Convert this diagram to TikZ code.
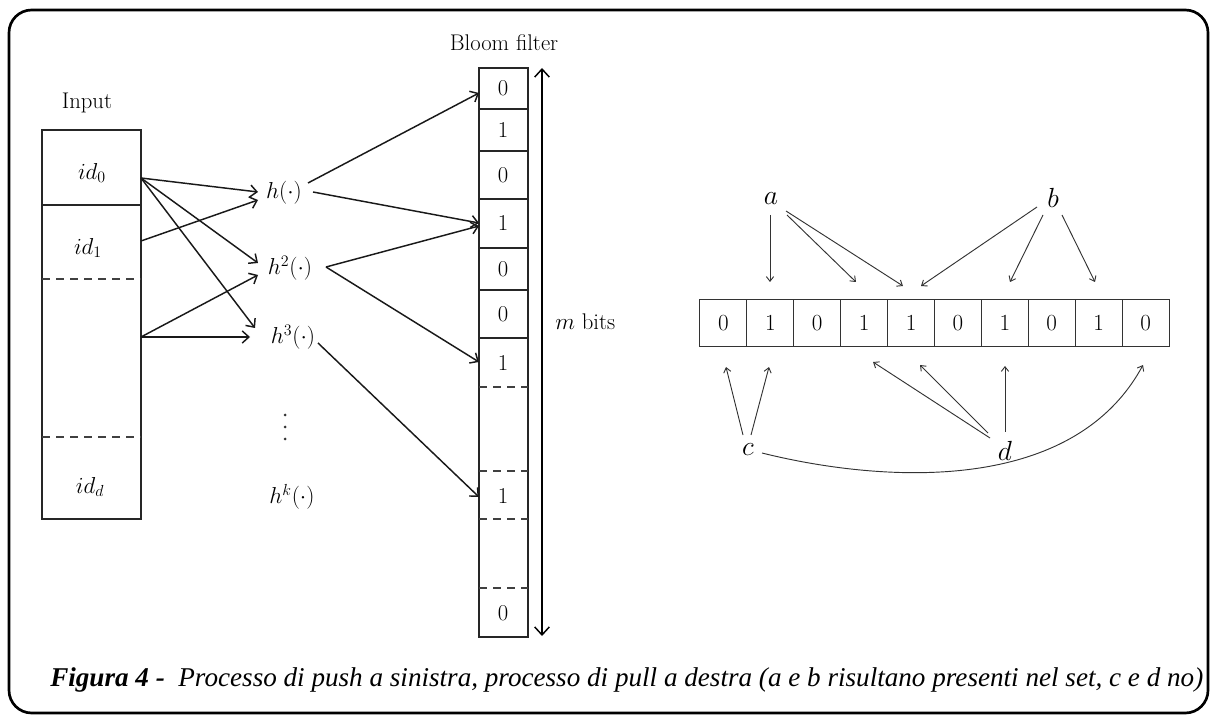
\documentclass[tikz,border=0pt]{standalone}
\usepackage{fontspec}
\usepackage{graphicx}
\usetikzlibrary{arrows.meta}
\newfontfamily\capfont{Liberation Serif}
\begin{document}
\begin{tikzpicture}[x=0.75pt,y=-0.75pt,
  lbl/.style={font=\fontsize{17}{20}\selectfont, inner sep=0pt},
  mlbl/.style={font=\fontsize{17.5}{20}\selectfont, inner sep=0pt},
  rlbl/.style={font=\fontsize{19.5}{22}\selectfont, inner sep=0pt},
  cellline/.style={draw=black!85, line width=1.1pt},
  dashline/.style={draw=black!75, line width=1.1pt, dash pattern=on 6pt off 4.5pt},
  push/.style={draw=black!90, line width=1.1pt, -{Straight Barb[length=5pt,width=9pt]}},
  pull/.style={draw=black!80, line width=0.7pt, -{Straight Barb[length=3.5pt,width=5.5pt]}},
  bit/.style={draw=black!80, line width=0.75pt, minimum width=35.2pt, minimum height=35.25pt,
    inner sep=0pt, font=\fontsize{19}{22}\selectfont},
]
\useasboundingbox (0,0) rectangle (1214,716);
% outer frame
\draw[line width=2pt, rounded corners=17pt] (9,10) rectangle (1208,713);

% ---------- push: input items ----------
\node[lbl] (inlabel) at (87,103) {Input};
\draw[cellline] (42,130) rectangle (141,519);
\draw[cellline] (42,205) -- (141,205);
\draw[dashline] (42,279) -- (141,279);
\draw[dashline] (42,437) -- (141,437);
\node[mlbl] (id0) at (92,173) {$id_0$};
\node[mlbl] (id1) at (88,248) {$id_1$};
\node[mlbl] (idd) at (90,487) {$id_d$};

% ---------- hash functions ----------
\node[mlbl] (h1) at (284,193) {$h(\cdot)$};
\node[mlbl] (h2) at (290,268) {$h^2(\cdot)$};
\node[mlbl] (h3) at (293,337) {$h^3(\cdot)$};
\node[mlbl] (hk) at (292,497) {$h^k(\cdot)$};
% vertical ellipsis between h^3 and h^k
\foreach \yy in {415,427,439} \fill[black!80] (285,\yy) circle (1.5);

% connector end points
\coordinate (s0) at (141,178);
\coordinate (s1) at (141,241);
\coordinate (s2) at (141,337);
\coordinate (h1a) at (258,192);
\coordinate (h1b) at (258,200);
\coordinate (h2a) at (258,263);
\coordinate (h2b) at (258,275);
\coordinate (h3a) at (255,328);
\coordinate (h3b) at (250,337);

\draw[push] (s0) -- (h1a);
\draw[push] (s0) -- (h2a);
\draw[push] (s0) -- (h3a);
\draw[push] (s1) -- (h1b);
\draw[push] (s2) -- (h2b);
\draw[push] (s2) -- (h3b);

% ---------- Bloom filter column ----------
\node[lbl] (bflabel) at (504,43) {Bloom filter};
\draw[cellline] (479,68) rectangle (528,637);
\foreach \yy in {109,151,199,248,290,338} \draw[cellline] (479,\yy) -- (528,\yy);
\foreach \yy in {387,471,519,588} \draw[dashline] (479,\yy) -- (528,\yy);
\node[lbl] (bf0) at (503,88) {0};
\node[lbl] (bf1) at (503,130) {1};
\node[lbl] (bf2) at (503,175) {0};
\node[lbl] (bf3) at (503,223) {1};
\node[lbl] (bf4) at (503,269) {0};
\node[lbl] (bf5) at (503,314) {0};
\node[lbl] (bf6) at (503,363) {1};
\node[lbl] (bf7) at (503,496) {1};
\node[lbl] (bf8) at (503,613) {0};

\coordinate (o1a) at (308,183);
\coordinate (o1b) at (313,192);
\coordinate (o2) at (326,267);
\coordinate (o3) at (318,343);
\coordinate (t0) at (479,93);
\coordinate (t3a) at (479,223);
\coordinate (t3b) at (479,226);
\coordinate (t6) at (479,362);
\coordinate (t7) at (479,497);

\draw[push] (o1a) -- (t0);
\draw[push] (o1b) -- (t3a);
\draw[push] (o2) -- (t3b);
\draw[push] (o2) -- (t6);
\draw[push] (o3) -- (t7);

% size of the filter
\coordinate (mtop) at (542,68);
\coordinate (mbot) at (542,636);
\draw[line width=1.1pt, {Straight Barb[length=6pt,width=11pt]}-{Straight Barb[length=6pt,width=11pt]}] (mtop) -- (mbot);
\node[lbl, anchor=west] (mbits) at (555,322) {$m$ bits};

% ---------- pull: query on the bit array ----------
\foreach \i/\v in {0/0,1/1,2/0,3/1,4/1,5/0,6/1,7/0,8/1,9/0}
  \node[bit] (r\i) at ({700+46.9*(\i+0.5)},323.5) {$\v$};

\node[rlbl] (qa) at (771,199) {$a$};
\node[rlbl] (qb) at (1053,198) {$b$};
\node[rlbl] (qc) at (748,450) {$c$};
\node[rlbl] (qd) at (1005,451) {$d$};

\coordinate (a0) at (770,215);
\coordinate (a1) at (787,215);
\coordinate (a2) at (786,211);
\coordinate (ta1) at (770,282);
\coordinate (ta3) at (856,282);
\coordinate (ta4) at (903,286);
\draw[pull] (a0) -- (ta1);
\draw[pull] (a1) -- (ta3);
\draw[pull] (a2) -- (ta4);

\coordinate (b0) at (1037,207);
\coordinate (b1) at (1043,215);
\coordinate (b2) at (1062,215);
\coordinate (tb4) at (921,286);
\coordinate (tb6) at (1010,282);
\coordinate (tb8) at (1095,282);
\draw[pull] (b0) -- (tb4);
\draw[pull] (b1) -- (tb6);
\draw[pull] (b2) -- (tb8);

\coordinate (c0) at (743,435);
\coordinate (c1) at (751,435);
\coordinate (c2) at (762,453);
\coordinate (tc0) at (726,367);
\coordinate (tc1) at (769,367);
\coordinate (tc9) at (1143,365);
\draw[pull] (c0) -- (tc0);
\draw[pull] (c1) -- (tc1);
\draw[pull] (c2) .. controls (870,480) and (1070,500) .. (tc9);

\coordinate (d0) at (990,438);
\coordinate (d1) at (988,433);
\coordinate (d2) at (1005,432);
\coordinate (td3) at (873,362);
\coordinate (td4) at (920,365);
\coordinate (td6) at (1005,366);
\draw[pull] (d0) -- (td3);
\draw[pull] (d1) -- (td4);
\draw[pull] (d2) -- (td6);

% ---------- caption ----------
\node[anchor=west, inner sep=0pt] (caption) at (50,680)
  {\resizebox{864.75pt}{!}{\capfont\fontsize{18}{21}\selectfont
   {\bfseries\itshape Figura 4 -}\ \ {\itshape Processo di push a sinistra, processo di pull a destra (a e b risultano presenti nel set, c e d no)}}};
\end{tikzpicture}
\end{document}
